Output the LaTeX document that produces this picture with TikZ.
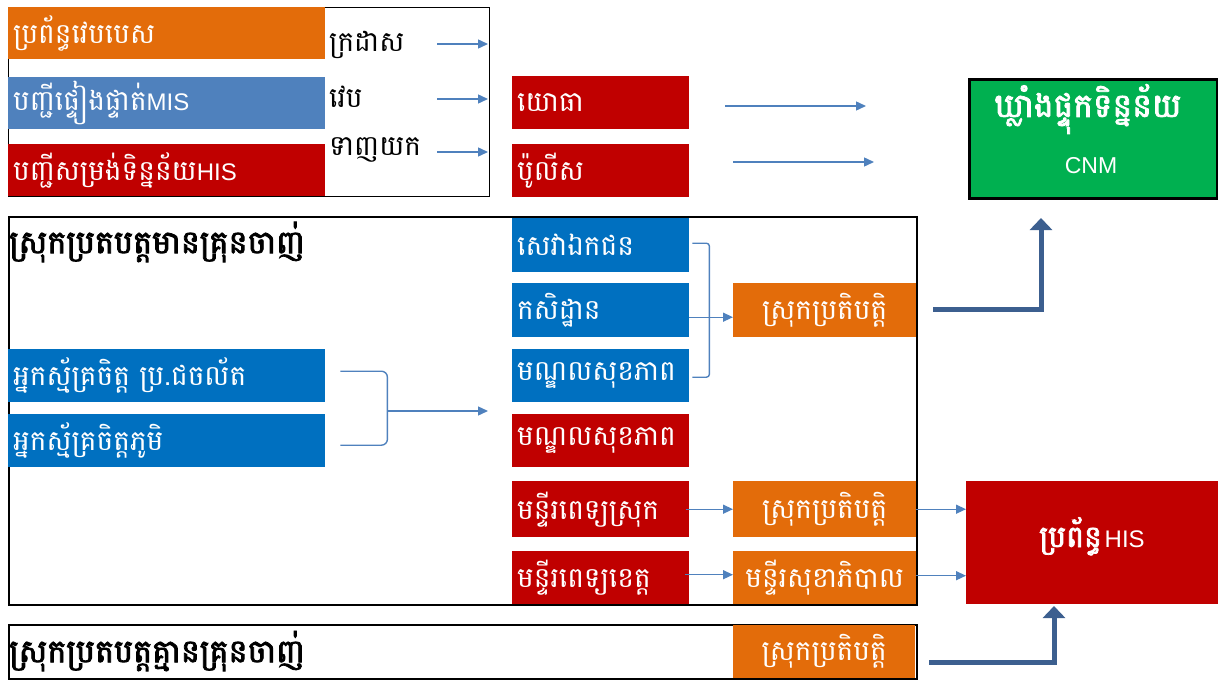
\documentclass[tikz,border=0pt]{standalone}
\usepackage{fontspec}
\setmainfont{Liberation Sans}
\newfontfamily\kh[Script=Khmer]{Battambang}
\newfontfamily\khb[Script=Khmer,AutoFakeBold=2.5]{Battambang}
\usetikzlibrary{arrows.meta}
\definecolor{cOr}{HTML}{E36C0A}
\definecolor{cBl}{HTML}{4F81BD}
\definecolor{cBd}{HTML}{0070C0}
\definecolor{cRd}{HTML}{C00000}
\definecolor{cGr}{HTML}{00B050}
\definecolor{cLn}{HTML}{4F81BD}
\definecolor{cTk}{HTML}{3C5F8F}
\newcommand\lat[1]{{\normalfont\fontsize{24}{26}\selectfont #1}}
\tikzset{
  box/.style={anchor=north west, inner xsep=5pt, inner ysep=0pt, text=white,
    font=\kh\fontsize{28}{32}\selectfont, align=left},
  cbox/.style={anchor=north west, inner xsep=2pt, inner ysep=0pt, text=white,
    font=\kh\fontsize{28}{32}\selectfont, align=center},
  lab/.style={anchor=west, inner sep=0pt, font=\kh\fontsize{28}{32}\selectfont},
  ttl/.style={anchor=west, inner sep=0pt, font=\khb\bfseries\fontsize{32}{36}\selectfont},
  frame/.style={draw=black, line width=1.5pt, anchor=north west, inner sep=0pt},
  ar/.style={draw=cLn, line width=1.4pt, -{Triangle[length=10pt,width=9pt]}},
  br/.style={draw=cLn, line width=1.4pt},
  tk/.style={draw=cTk, line width=5pt, -{Triangle[length=12pt,width=22pt]}},
}
\begin{document}
\begin{tikzpicture}[x=1pt,y=-1pt]
\useasboundingbox (0,0) rectangle (1218,680);
% frames
\node[frame, line width=1.2pt, minimum width=481, minimum height=189] (f1) at (8,7) {};
\node[frame, line width=1.8pt, minimum width=908, minimum height=388] (f2) at (8,216) {};
\node[frame, minimum width=908, minimum height=54] (f3) at (8,624) {};
% top group
\node[box, fill=cOr, minimum width=317, minimum height=52, text width=307] (web) at (8,7) {ប្រព័ន្ធវេបបេស};
\node[box, fill=cBl, minimum width=317, minimum height=52, text width=307] (mis) at (8,77) {បញ្ជីផ្ទៀងផ្ទាត់\lat{MIS}};
\node[box, fill=cRd, minimum width=317, minimum height=52, text width=307] (his1) at (8,144) {បញ្ជីសម្រង់ទិន្នន័យ\lat{HIS}};
\node[lab] (l1) at (329,45) {ក្រដាស};
\node[lab] (l2) at (329,97) {វេប};
\node[lab] (l3) at (329,150) {ទាញយក};
\coordinate (a1s) at (437,44); \coordinate (a1e) at (488,44);
\coordinate (a2s) at (437,99); \coordinate (a2e) at (488,99);
\coordinate (a3s) at (437,152); \coordinate (a3e) at (488,152);
\draw[ar] (a1s) -- (a1e);
\draw[ar] (a2s) -- (a2e);
\draw[ar] (a3s) -- (a3e);
\node[box, fill=cRd, minimum width=177, minimum height=53, text width=167] (mil) at (512,76) {យោធា};
\node[box, fill=cRd, minimum width=177, minimum height=53, text width=167] (pol) at (512,144) {ប៉ូលីស};
\coordinate (b1s) at (725,106); \coordinate (b1e) at (866,106);
\coordinate (b2s) at (733,162); \coordinate (b2e) at (874,162);
\draw[ar] (b1s) -- (b1e);
\draw[ar] (b2s) -- (b2e);
% CNM
\node[anchor=north west, fill=cGr, draw=black, line width=2.5pt, minimum width=248, minimum height=119, inner sep=0pt] (cnm) at (968,78) {};
\node[text=white, font=\khb\bfseries\fontsize{33}{36}\selectfont, inner sep=0pt] (cnmt1) at (1088,109) {ឃ្លាំងផ្ទុកទិន្នន័យ};
\node[text=white, font=\fontsize{23}{26}\selectfont, inner sep=0pt] (cnmt2) at (1091,166) {CNM};
% malaria OD
\node[ttl] (t1) at (9,242) {ស្រុកប្រតបត្តមានគ្រុនចាញ់};
\node[box, fill=cBd, minimum width=177, minimum height=54, text width=167] (sev) at (512,218) {សេវាឯកជន};
\node[box, fill=cBd, minimum width=177, minimum height=54, text width=167] (kas) at (512,283) {កសិដ្ឋាន};
\node[box, fill=cBd, minimum width=177, minimum height=53, text width=167] (hc1) at (512,349) {មណ្ឌលសុខភាព};
\node[box, fill=cRd, minimum width=177, minimum height=53, text width=167] (hc2) at (512,414) {មណ្ឌលសុខភាព};
\node[box, fill=cRd, minimum width=177, minimum height=56, text width=167] (dh) at (512,481) {មន្ទីរពេទ្យស្រុក};
\node[box, fill=cRd, minimum width=177, minimum height=53, text width=167] (ph) at (512,551) {មន្ទីរពេទ្យខេត្ត};
\node[cbox, fill=cOr, minimum width=183, minimum height=54, text width=179] (od1) at (733,283) {ស្រុកប្រតិបត្តិ};
\node[cbox, fill=cOr, minimum width=183, minimum height=56, text width=179] (od2) at (733,481) {ស្រុកប្រតិបត្តិ};
\node[cbox, fill=cOr, minimum width=183, minimum height=53, text width=179] (phd) at (733,551) {មន្ទីរសុខាភិបាល};
\node[box, fill=cBd, minimum width=317, minimum height=53, text width=307] (v1) at (8,349) {អ្នកស្ម័គ្រចិត្ត ប្រ.ជចល័ត};
\node[box, fill=cBd, minimum width=317, minimum height=53, text width=307] (v2) at (8,414) {អ្នកស្ម័គ្រចិត្តភូមិ};
% HIS
\node[anchor=north west, fill=cRd, minimum width=252, minimum height=123, inner sep=0pt] (his) at (966,481) {};
\node[text=white, inner sep=0pt, anchor=base] (hist) at (1092,547) {{\khb\bfseries\fontsize{30}{34}\selectfont ប្រព័ន្ធ} {\fontsize{24}{26}\selectfont HIS}};
% bottom OD
\node[ttl] (t2) at (9,651) {ស្រុកប្រតបត្តគ្មានគ្រុនចាញ់};
\node[cbox, fill=cOr, minimum width=182, minimum height=53, text width=178] (od3) at (733,625) {ស្រុកប្រតិបត្តិ};
% brackets
\draw[br, rounded corners=6pt] ([xshift=15pt,yshift=4.5pt]v1.east) -| ([xshift=62pt,yshift=-4.5pt]v2.east) -- ([xshift=15pt,yshift=-4.5pt]v2.east);
\coordinate (vm) at (387,411); \coordinate (vme) at (488,411);
\draw[ar] (vm) -- (vme);
\draw[br, rounded corners=3pt] ([xshift=3pt,yshift=2pt]sev.east) -| ([xshift=20pt,yshift=-1.5pt]hc1.east) -- ([xshift=3pt,yshift=-1.5pt]hc1.east);
\draw[ar] ([yshift=-7pt]kas.east) -- ([yshift=-7pt]od1.west);
\draw[ar] ([xshift=-3pt]dh.east) -- (od2.west);
\draw[ar] ([xshift=-4pt,yshift=3pt]ph.east) -- ([yshift=3pt]phd.west);
\draw[ar] (od2.east) -- (od2.east -| his.west);
\draw[ar] ([yshift=2pt]phd.east) -- ([yshift=2pt]phd.east -| his.west);
% thick arrows
\coordinate (k1s) at (933,309); \coordinate (k1e) at (1041,218);
\draw[tk] (k1s) -| (k1e);
\coordinate (k2s) at (929,662); \coordinate (k2e) at (1054,606);
\draw[tk] (k2s) -| (k2e);
\end{tikzpicture}
\end{document}
